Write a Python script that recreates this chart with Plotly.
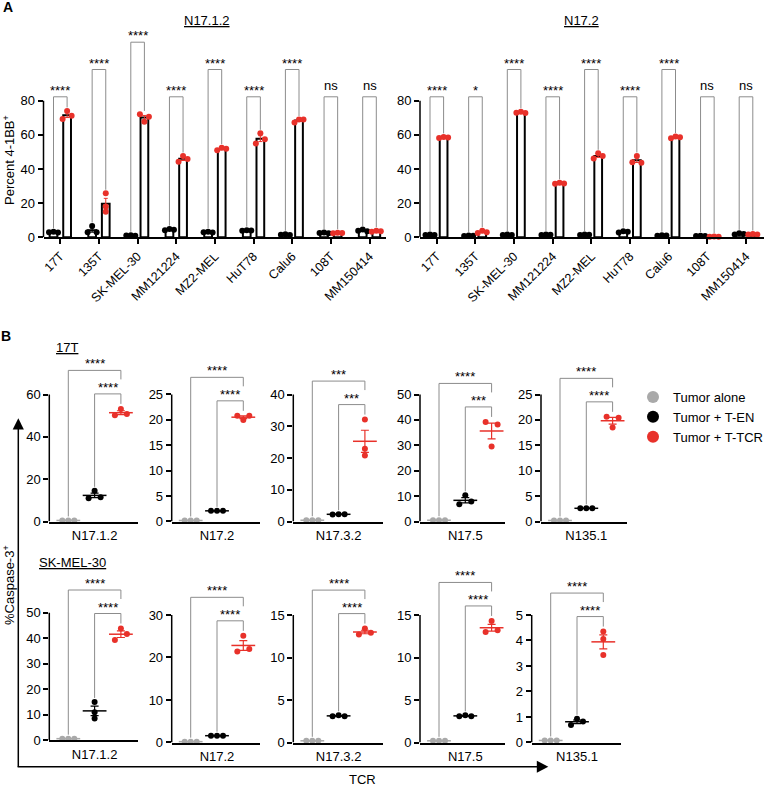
import plotly.graph_objects as go
import numpy as np

W, H = 773, 793
FONT = "Liberation Sans, Arial, Helvetica, sans-serif"
RED = "#E8312A"
GRAY = "#A9A9A9"
BLACK = "#000000"
BRK = "#8C8C8C"

# ---------------- Panel A data ----------------
cell_lines = ["17T", "135T", "SK-MEL-30", "MM121224", "MZ2-MEL", "HuT78", "Calu6", "108T", "MM150414"]
a_titles = ["N17.1.2", "N17.2"]
a_ten_n1712 = [[3.0, 3.2, 2.8], [3.0, 6.6, 3.0], [1.0, 1.2, 0.9], [4.2, 4.8, 4.4], [3.0, 3.3, 2.8],
               [3.8, 4.2, 4.0], [1.5, 1.8, 1.3], [2.5, 2.8, 2.3], [3.8, 4.5, 3.6]]
a_tcr_n1712 = [[69.3, 74.0, 71.2], [15.0, 25.8, 18.0], [72.0, 67.7, 70.6], [44.3, 47.6, 45.9], [51.0, 52.5, 51.8],
               [55.0, 60.9, 57.4], [67.3, 69.0, 69.0], [2.3, 2.7, 2.5], [3.3, 3.8, 3.6]]
a_sig_n1712 = ["****", "****", "****", "****", "****", "****", "****", "ns", "ns"]
a_ten_n172 = [[1.3, 1.6, 1.4], [0.8, 1.1, 0.9], [1.4, 1.6, 1.3], [1.3, 1.7, 1.5], [1.3, 1.6, 1.5],
              [2.8, 3.6, 3.2], [0.9, 1.2, 1.0], [0.7, 0.9, 0.8], [1.7, 2.3, 1.9]]
a_tcr_n172 = [[58.2, 58.8, 58.5], [2.5, 3.8, 3.0], [73.0, 73.5, 72.8], [31.3, 31.9, 31.5], [46.2, 49.2, 47.6],
              [43.9, 47.6, 43.7], [58.0, 59.0, 58.6], [0.3, 0.4, 0.3], [1.6, 1.9, 1.7]]
a_sig_n172 = ["****", "*", "****", "****", "****", "****", "****", "ns", "ns"]
a_yticks = [0, 20, 40, 60, 80]
a_ylabel = "Percent 4-1BB<sup>+</sup>"

# ---------------- Panel B data ----------------
b_tumors = ["17T", "SK-MEL-30"]
b_tcrs = ["N17.1.2", "N17.2", "N17.3.2", "N17.5", "N135.1"]
b_groups = ["Tumor alone", "Tumor + T-EN", "Tumor + T-TCR"]
b_alone_17T = [[0.5, 0.5, 0.5], [0.2, 0.2, 0.2], [0.4, 0.4, 0.4], [0.5, 0.5, 0.5], [0.2, 0.2, 0.2]]
b_ten_17T = [[11.0, 14.5, 11.5], [2.1, 2.1, 2.1], [2.2, 2.3, 2.3], [6.8, 10.3, 7.9], [2.6, 2.6, 2.6]]
b_tcr_17T = [[50.2, 53.2, 50.8], [20.8, 20.0, 20.8], [32.1, 22.9, 20.8], [39.2, 29.5, 38.2], [20.6, 18.5, 20.4]]
b_sig_17T = [["****", "****"], ["****", "****"], ["***", "***"], ["****", "***"], ["****", "****"]]
b_ymax_17T = [60, 25, 40, 50, 25]
b_ystep_17T = [20, 5, 10, 10, 5]
b_alone_SK = [[0.6, 0.6, 0.6], [0.2, 0.2, 0.2], [0.2, 0.2, 0.2], [0.2, 0.2, 0.2], [0.08, 0.08, 0.08]]
b_ten_SK = [[8.5, 15.0, 11.0], [1.6, 1.6, 1.6], [3.1, 3.2, 3.1], [3.1, 3.2, 3.1], [0.69, 0.93, 0.82]]
b_tcr_SK = [[39.3, 43.8, 41.6], [21.4, 25.1, 22.0], [12.7, 13.4, 12.9], [13.0, 14.3, 13.2], [3.43, 4.35, 4.06]]
b_sig_SK = [["****", "****"], ["****", "****"], ["****", "****"], ["****", "****"], ["****", "****"]]
b_ymax_SK = [50, 30, 15, 15, 5]
b_ystep_SK = [10, 10, 5, 5, 1]
b_ylabel = "%Caspase-3<sup>+</sup>"
b_xlabel = "TCR"

# ---------------- geometry (pixels) ----------------
A_X = [(43.5, 386.0), (420.0, 764.0)]
A_Y0, A_YTOP = 237.3, 100.7
A_SP, A_LEFT = 38.65, 16.8
A_TIERS = [[0, 1, 2, 0, 1, 0, 1, 0, 0], [0, 0, 1, 0, 1, 0, 1, 0, 0]]
B_COL_X = [[(49.3, 138.3), (171.7, 260.0), (293.3, 383.3), (420.0, 505.0), (541.0, 626.7)],
           [(49.3, 138.0), (171.7, 260.0), (293.3, 383.0), (420.0, 505.0), (531.7, 620.7)]]
B_ROW_Y = [[(521.5, 394.5)] * 5,
           [(740.2, 612.7)] + [(742.5, 615.0)] * 4]
B_SP, B_LEFT = 26.3, 19.0

fig = go.Figure()
layout = dict(width=W, height=H, margin=dict(l=0, r=0, t=0, b=0, autoexpand=False), paper_bgcolor="white",
              plot_bgcolor="rgba(0,0,0,0)", font=dict(family=FONT, size=13, color="black"))
shapes, annotations = [], []
ax_n = [0]


def fx(px):
    return px / W


def fy(py):
    return 1 - py / H


def paper_text(px, py, text, size=13, angle=0):
    annotations.append(dict(x=fx(px), y=fy(py), xref="paper", yref="paper", text=text, showarrow=False,
                            xanchor="center", yanchor="middle", textangle=angle, font=dict(size=size)))


def add_axes(x0, x1, yb, yt, xr, yr, xkw, ykw):
    ax_n[0] += 1
    n = ax_n[0]
    s = "" if n == 1 else str(n)
    xa, ya = "x" + s, "y" + s
    base = dict(showgrid=False, zeroline=False, fixedrange=True, automargin=False)
    layout["xaxis" + s] = dict(base, domain=[fx(x0), fx(x1)], range=xr, anchor=ya, **xkw)
    layout["yaxis" + s] = dict(base, domain=[fy(yb), fy(yt)], range=yr, anchor=xa, **ykw)
    return xa, ya


def spread(vals, ppu, d):
    ys = [v * ppu for v in vals]
    coll = any(abs(ys[i] - ys[j]) < d for i in range(len(ys)) for j in range(i + 1, len(ys)))
    if not coll:
        return [0.0] * len(vals)
    return [(k - (len(vals) - 1) / 2) * d for k in range(len(vals))]


def sem(v):
    return float(np.std(v, ddof=1) / np.sqrt(len(v)))


ytick_kw = dict(showline=False, ticks="outside", ticklen=5, tickwidth=1.5, tickcolor="black",
                tickfont=dict(size=13, color="black"))

# ---------------- Panel A ----------------
a_sets = [(a_ten_n1712, a_tcr_n1712, a_sig_n1712), (a_ten_n172, a_tcr_n172, a_sig_n172)]
a_ppu = (A_Y0 - A_YTOP) / a_yticks[-1]
a_top = 125
for p, (ten, tcr, sig) in enumerate(a_sets):
    x0, x1 = A_X[p]
    xr = [-A_LEFT / A_SP, -A_LEFT / A_SP + (x1 - x0) / A_SP]
    xa, ya = add_axes(x0, x1, A_Y0, A_Y0 - a_top * a_ppu, xr, [0, a_top],
                      dict(showline=True, linecolor="black", linewidth=1.5, ticks="outside", ticklen=5,
                           tickwidth=1.5, tickcolor="black", tickvals=list(range(len(cell_lines))),
                           ticktext=cell_lines, tickangle=-45, tickfont=dict(size=12.5, color="black")),
                      dict(ytick_kw, tickvals=a_yticks))
    shapes.append(dict(type="line", xref=xa + " domain", x0=0, x1=0, yref=ya, y0=0, y1=a_yticks[-1],
                       line=dict(color="black", width=1.5)))
    off = 6.8 / A_SP
    for series, sgn, col in [(ten, -1, BLACK), (tcr, 1, RED)]:
        xs = [i + sgn * off for i in range(len(cell_lines))]
        fig.add_trace(go.Bar(x=xs, y=[np.mean(v) for v in series], width=0.2,
                             marker=dict(color="white", line=dict(color="black", width=2)),
                             error_y=dict(type="data", array=[sem(v) for v in series], color=col,
                                          thickness=1, width=2),
                             xaxis=xa, yaxis=ya, showlegend=False, hoverinfo="skip"))
        px_, py_ = [], []
        for i, v in enumerate(series):
            o = spread(v, a_ppu, 4.5)
            px_ += [xs[i] + oo / A_SP for oo in o]
            py_ += list(v)
        fig.add_trace(go.Scatter(x=px_, y=py_, mode="markers", marker=dict(size=6, color=col),
                                 cliponaxis=False, xaxis=xa, yaxis=ya, showlegend=False, hoverinfo="skip"))
    tier = A_TIERS[p]
    for i in range(len(cell_lines)):
        top = a_yticks[-1] + (3.9 + tier[i] * 27.3) / a_ppu
        lb = max(ten[i]) + 3.5 / a_ppu
        rb = max(tcr[i]) + 3.5 / a_ppu
        fig.add_trace(go.Scatter(x=[i - off, i - off, i + off, i + off], y=[lb, top, top, rb], mode="lines",
                                 line=dict(color=BRK, width=1), xaxis=xa, yaxis=ya, showlegend=False,
                                 hoverinfo="skip"))
        annotations.append(dict(x=i, y=top, xref=xa, yref=ya, text=sig[i], showarrow=False, xanchor="center",
                                yanchor="bottom", yshift=(2 if sig[i] == "ns" else -3), font=dict(size=13)))
    paper_text([207, 581][p], 20, "<u>" + a_titles[p] + "</u>")

paper_text(9, 160, a_ylabel, angle=-90)
paper_text(8, 7, "<b>A</b>", size=14)

# ---------------- Panel B ----------------
b_sets = [(b_alone_17T, b_ten_17T, b_tcr_17T, b_sig_17T, b_ymax_17T, b_ystep_17T),
          (b_alone_SK, b_ten_SK, b_tcr_SK, b_sig_SK, b_ymax_SK, b_ystep_SK)]
colors = [GRAY, BLACK, RED]
first = True
for r, (alone, ten, tcr, sig, ymax, ystep) in enumerate(b_sets):
    for c in range(len(b_tcrs)):
        x0, x1 = B_COL_X[r][c]
        y0px, ytpx = B_ROW_Y[r][c]
        ppu = (y0px - ytpx) / ymax[c]
        inner_top = max(tcr[c]) + 15 / ppu
        outer_top = inner_top + 23.5 / ppu
        ytop = outer_top + 3 / ppu
        xr = [-B_LEFT / B_SP, -B_LEFT / B_SP + (x1 - x0) / B_SP]
        xa, ya = add_axes(x0, x1, y0px, y0px - ytop * ppu, xr, [0, ytop],
                          dict(showline=True, linecolor="black", linewidth=1.5, ticks="outside", ticklen=1,
                               tickcolor="rgba(0,0,0,0)", tickvals=[1], ticktext=[b_tcrs[c]],
                               tickfont=dict(size=13, color="black")),
                          dict(ytick_kw, tickvals=list(np.arange(0, ymax[c] + ystep[c] / 2, ystep[c]))))
        shapes.append(dict(type="line", xref=xa + " domain", x0=0, x1=0, yref=ya, y0=0, y1=ymax[c],
                           line=dict(color="black", width=1.5)))
        groups = [alone[c], ten[c], tcr[c]]
        for k, (vals, col) in enumerate(zip(groups, colors)):
            o = spread(vals, ppu, 6.0)
            fig.add_trace(go.Scatter(x=[k + oo / B_SP for oo in o], y=vals, mode="markers",
                                     marker=dict(size=6, color=col), cliponaxis=False,
                                     xaxis=xa, yaxis=ya, showlegend=False, hoverinfo="skip"))
        for k, (vals, col) in enumerate(zip(groups, colors)):
            fig.add_trace(go.Scatter(x=[k], y=[float(np.mean(vals))], mode="markers",
                                     marker=dict(symbol="line-ew", size=17, color=col,
                                                 line=dict(width=1.5, color=col)),
                                     error_y=dict(type="data", array=[sem(vals)], color=col, thickness=1.2,
                                                  width=4),
                                     cliponaxis=False, xaxis=xa, yaxis=ya, showlegend=False,
                                     hoverinfo="skip"))
        fig.add_trace(go.Scatter(x=[0, 0, 2, 2],
                                 y=[max(alone[c]) + 4 / ppu, outer_top, outer_top, outer_top - 9 / ppu],
                                 mode="lines", line=dict(color=BRK, width=1), xaxis=xa, yaxis=ya,
                                 showlegend=False, hoverinfo="skip"))
        fig.add_trace(go.Scatter(x=[1, 1, 2, 2],
                                 y=[max(ten[c]) + 4 / ppu, inner_top, inner_top, inner_top - 10 / ppu],
                                 mode="lines", line=dict(color=BRK, width=1), xaxis=xa, yaxis=ya,
                                 showlegend=False, hoverinfo="skip"))
        annotations.append(dict(x=1, y=outer_top, xref=xa, yref=ya, text=sig[c][0], showarrow=False,
                                xanchor="center", yanchor="bottom", yshift=-3, font=dict(size=13)))
        annotations.append(dict(x=1.5, y=inner_top, xref=xa, yref=ya, text=sig[c][1], showarrow=False,
                                xanchor="center", yanchor="bottom", yshift=-3, font=dict(size=13)))
        if first:
            for g, col in zip(b_groups, colors):
                fig.add_trace(go.Scatter(x=[None], y=[None], mode="markers", name=g,
                                         marker=dict(size=12, color=col), xaxis=xa, yaxis=ya,
                                         showlegend=True))
            first = False

paper_text(67, 347, "<u>" + b_tumors[0] + "</u>")
paper_text(72, 562, "<u>" + b_tumors[1] + "</u>")
paper_text(9, 585, b_ylabel, angle=-90)
paper_text(362, 779, b_xlabel)
paper_text(6, 336, "<b>B</b>", size=14)

# axis arrows of panel B
ax_x, ax_y = 18.3, 766.7
shapes.append(dict(type="line", xref="paper", yref="paper", x0=fx(ax_x), x1=fx(ax_x), y0=fy(ax_y),
                   y1=fy(428.0), line=dict(color="black", width=1.5)))
shapes.append(dict(type="line", xref="paper", yref="paper", x0=fx(ax_x - 0.7), x1=fx(537.5), y0=fy(ax_y),
                   y1=fy(ax_y), line=dict(color="black", width=1.5)))
shapes.append(dict(type="path", xref="paper", yref="paper",
                   path=f"M {fx(ax_x)} {fy(418.3)} L {fx(ax_x - 5.6)} {fy(429.5)} L {fx(ax_x + 5.6)} {fy(429.5)} Z",
                   fillcolor="black", line=dict(width=0)))
shapes.append(dict(type="path", xref="paper", yref="paper",
                   path=f"M {fx(548.3)} {fy(ax_y)} L {fx(536.8)} {fy(ax_y - 6)} L {fx(536.8)} {fy(ax_y + 6)} Z",
                   fillcolor="black", line=dict(width=0)))

layout["shapes"] = shapes
layout["annotations"] = annotations
layout["showlegend"] = True
layout["legend"] = dict(x=fx(633), y=fy(382), xanchor="left", yanchor="top", bgcolor="rgba(0,0,0,0)",
                        font=dict(size=13), itemwidth=30, tracegroupgap=0, traceorder="normal")
fig.update_layout(**layout)
fig.write_html("out.html", config={"displayModeBar": False},
               post_script="document.body.style.margin='0';")
